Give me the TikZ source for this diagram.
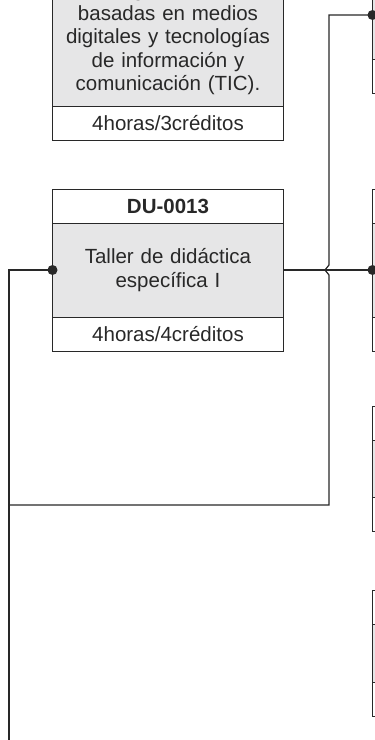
\documentclass[tikz,border=0pt]{standalone}
\usepackage{fontspec}
\setmainfont{Liberation Sans}
\usepackage{tikz}
\usetikzlibrary{positioning, calc}
\definecolor{linegray}{RGB}{40, 40, 40}
\definecolor{boxgray}{RGB}{230, 230, 231}
\newcommand{\coursefont}{\fontsize{20.5}{23.5}\selectfont}
\tikzset{
  cell/.style={draw=linegray, line width=0.8pt, minimum width=231pt, text width=225pt,
    align=center, inner sep=0pt, outer sep=0pt, text=linegray, font=\coursefont},
  headcell/.style={cell, minimum height=34pt, font=\coursefont\bfseries},
  bodycell/.style={cell, fill=boxgray},
  credcell/.style={cell, minimum height=34pt},
  conn/.style={draw=linegray, line width=1.2pt},
}

\begin{document}
\begin{tikzpicture}[x=1pt, y=1pt]
  \useasboundingbox (0, 0) rectangle (375, -740);

  % TIC course (cut at the top)
  \node[bodycell, minimum height=136pt] (tic) at (168, -38.5)
    {Estrategias didácticas\\basadas en medios\\digitales y tecnologías\\de información y\\comunicación (TIC).};
  \node[credcell, below=0pt of tic] (ticcr) {4horas/3créditos};

  % DU-0013
  \node[headcell] (tallerhd) at (168, -206) {DU-0013};
  \node[bodycell, minimum height=94pt, below=0pt of tallerhd] (taller) {Taller de didáctica\\específica I};
  \node[credcell, below=0pt of taller] (tallercr) {4horas/4créditos};

  % right column (only the left edge shows)
  \node[bodycell, minimum height=89pt] (rta) at (488, -15) {};
  \node[credcell, below=0pt of rta] (rtacr) {};

  \node[headcell] (rtbhd) at (488, -206) {};
  \node[bodycell, minimum height=94pt, below=0pt of rtbhd] (rtb) {};
  \node[credcell, below=0pt of rtb] (rtbcr) {};

  \node[headcell] (rtchd) at (488, -423) {};
  \node[bodycell, minimum height=57pt, below=0pt of rtchd] (rtc) {};
  \node[credcell, below=0pt of rtc] (rtccr) {};

  \node[headcell] (rtdhd) at (488, -607.7) {};
  \node[bodycell, minimum height=58pt, below=0pt of rtdhd] (rtd) {};
  \node[credcell, below=0pt of rtd] (rtdcr) {};

  % connectors
  \coordinate (busbot) at (9, -740);
  \coordinate (joint) at (9, -505);
  \coordinate (riser) at (329, -505);
  \draw[conn] (taller.west) -| (busbot);
  \draw[conn] (taller.east) -- (rtb.west);
  \draw[conn] (rta.west) -| ($(riser |- taller.west)+(0, 5)$) -- ++(-4, -5) -- ++(4, -5) -- (riser) -- (joint);

  \fill[linegray] (taller.west) circle (5pt);
  \fill[linegray] (rta.west) circle (5pt);
  \fill[linegray] (rtb.west) circle (5pt);
\end{tikzpicture}
\end{document}
